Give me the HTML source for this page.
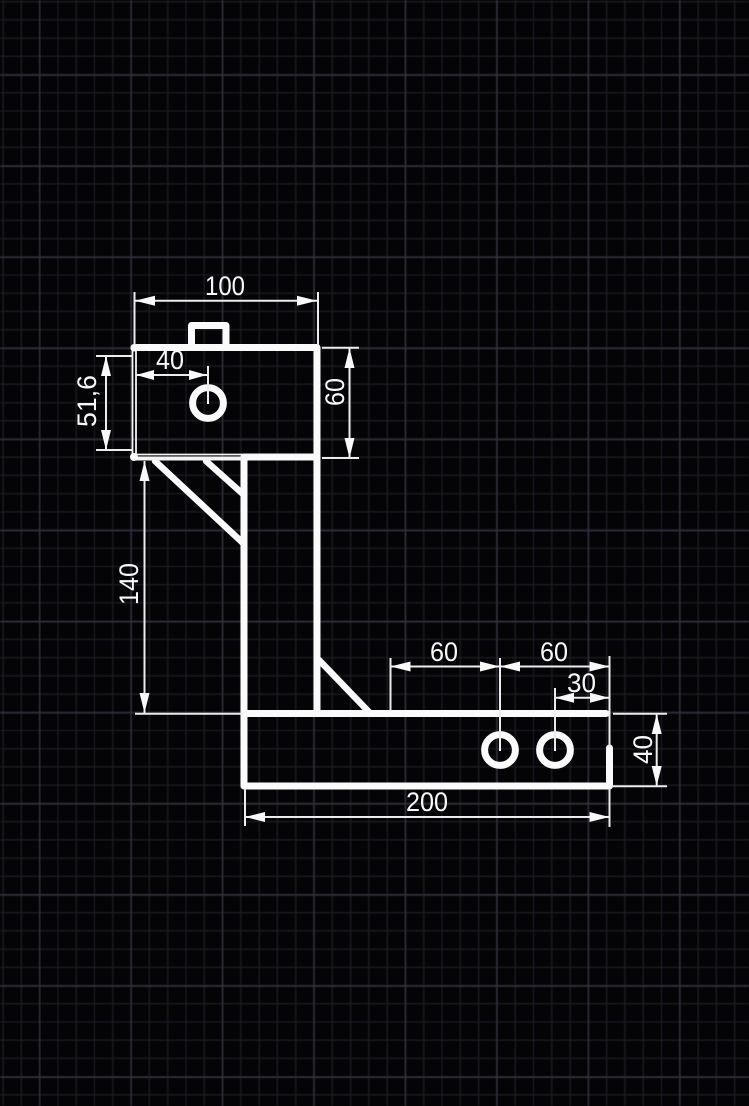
<!DOCTYPE html>
<html>
<head>
<meta charset="utf-8">
<style>
html,body{margin:0;padding:0;background:#040406;}
svg{display:block;}
text{font-family:"Liberation Sans",Arial,sans-serif;fill:#f8f8f8;font-size:27px;}
</style>
</head>
<body>
<svg xmlns="http://www.w3.org/2000/svg" width="749" height="1106" viewBox="0 0 749 1106">
<defs>
<pattern id="minor" x="2.4" y="1" width="18.29" height="18.22" patternUnits="userSpaceOnUse">
<path d="M0.5 0V18.22M0 0.5H18.29" stroke="#1d1d24" stroke-width="1.6" fill="none"/>
</pattern>
<pattern id="major" x="38.9" y="74.4" width="91.45" height="91.1" patternUnits="userSpaceOnUse">
<path d="M0.5 0V91.1M0 0.5H91.45" stroke="#30303c" stroke-width="2" fill="none"/>
</pattern>
<filter id="soft" x="0" y="0" width="100%" height="100%"><feGaussianBlur stdDeviation="0.6"/></filter>
<filter id="ink" x="-5%" y="-5%" width="110%" height="110%"><feGaussianBlur stdDeviation="0.3"/></filter>
</defs>
<rect width="749" height="1106" fill="#040406"/>
<g filter="url(#soft)">
<rect width="749" height="1106" fill="url(#minor)"/>
<rect width="749" height="1106" fill="url(#major)"/>
</g>

<g filter="url(#ink)">
<!-- thick outlines -->
<g stroke="#fafafa" stroke-width="7" fill="none" stroke-linejoin="round" stroke-linecap="round">
<path d="M134 347.5H317V457H244"/>
<path d="M191.5 346V325.5H226V346"/>
<path d="M244 457V786H609"/>
<path d="M317 457V713"/>
<path d="M244 713.5H606"/>
<path d="M609.5 748V786"/>
<path d="M155 461L244 544" stroke-width="6.5"/>
<path d="M206 461L244 495" stroke-width="6.5"/>
<path d="M319 660L369 712" stroke-width="6.5"/>
<circle cx="208" cy="403" r="15.4"/>
<circle cx="500" cy="750" r="15.4"/>
<circle cx="555" cy="750" r="15.4"/>
</g>
<!-- left thin edge and double lower line -->
<g stroke="#f4f4f4" fill="none">
<path d="M132.5 347V457" stroke-width="1.8"/>
<path d="M136 347V457" stroke-width="1.8"/>
<path d="M134 454.5H243" stroke-width="1.8"/>
<path d="M134 459.5H243" stroke-width="2"/>
<path d="M136 457.5H243" stroke-width="2"/>
</g>
<circle cx="134" cy="457" r="4" fill="#fafafa"/>
<circle cx="134" cy="348" r="3.5" fill="#fafafa"/>

<!-- dimension and extension lines -->
<g stroke="#ececec" stroke-width="2" fill="none">
<path d="M134.5 292V345M318 292V345M135 300.8H317"/>
<path d="M322 347.8H359M322 458H359M349.5 348V458"/>
<path d="M96 356H133M96 450H133M106 356V450"/>
<path d="M136 375H207M208 366V403"/>
<path d="M144.5 461V713M135 713.8H243"/>
<path d="M390.5 658V711M500 658V750M609.5 656V713M390 666.5H609"/>
<path d="M555 688V750M555 697.7H609M609.5 713V748"/>
<path d="M613 713.8H667M613 786.3H667M656.7 714V786"/>
<path d="M245 788V826M609.5 788V827M245 817H609"/>
</g>

<!-- arrowheads -->
<g fill="#f8f8f8">
<polygon points="135,300.8 155,295.8 155,305.8"/>
<polygon points="317,300.8 297,295.8 297,305.8"/>
<polygon points="349.5,348 344.5,368 354.5,368"/>
<polygon points="349.5,458 344.5,438 354.5,438"/>
<polygon points="106,356 101,376 111,376"/>
<polygon points="106,450 101,430 111,430"/>
<polygon points="136,375 154,370 154,380"/>
<polygon points="207,375 189,370 189,380"/>
<polygon points="144.5,461 139.5,481 149.5,481"/>
<polygon points="144.5,713 139.5,693 149.5,693"/>
<polygon points="390.5,666.5 410.5,661.5 410.5,671.5"/>
<polygon points="500,666.5 480,661.5 480,671.5"/>
<polygon points="500,666.5 520,661.5 520,671.5"/>
<polygon points="609.5,666.5 589.5,661.5 589.5,671.5"/>
<polygon points="555,697.7 574,692.7 574,702.7"/>
<polygon points="609,697.7 590,692.7 590,702.7"/>
<polygon points="656.7,714 651.7,734 661.7,734"/>
<polygon points="656.7,786 651.7,766 661.7,766"/>
<polygon points="245,817 265,812 265,822"/>
<polygon points="609.5,817 589.5,812 589.5,822"/>
</g>

<!-- centre dots -->
<g fill="#ffffff">
<rect x="207" y="402" width="2" height="2"/>
<rect x="499" y="749" width="2" height="2"/>
<rect x="554" y="749" width="2" height="2"/>
</g>

<!-- labels -->
<text x="205" y="295" textLength="40" lengthAdjust="spacingAndGlyphs">100</text>
<text x="156" y="369" textLength="28" lengthAdjust="spacingAndGlyphs">40</text>
<text x="430" y="661" textLength="28" lengthAdjust="spacingAndGlyphs">60</text>
<text x="540" y="661" textLength="28" lengthAdjust="spacingAndGlyphs">60</text>
<text x="567" y="692" textLength="29" lengthAdjust="spacingAndGlyphs">30</text>
<text x="406" y="811" textLength="42" lengthAdjust="spacingAndGlyphs">200</text>
<text transform="translate(344,406) rotate(-90)" textLength="28" lengthAdjust="spacingAndGlyphs">60</text>
<text transform="translate(96,427) rotate(-90)" textLength="52" lengthAdjust="spacingAndGlyphs">51,6</text>
<text transform="translate(138,605) rotate(-90)" textLength="42" lengthAdjust="spacingAndGlyphs">140</text>
<text transform="translate(652,764) rotate(-90)" textLength="29" lengthAdjust="spacingAndGlyphs">40</text>
</g>
</svg>
</body>
</html>
